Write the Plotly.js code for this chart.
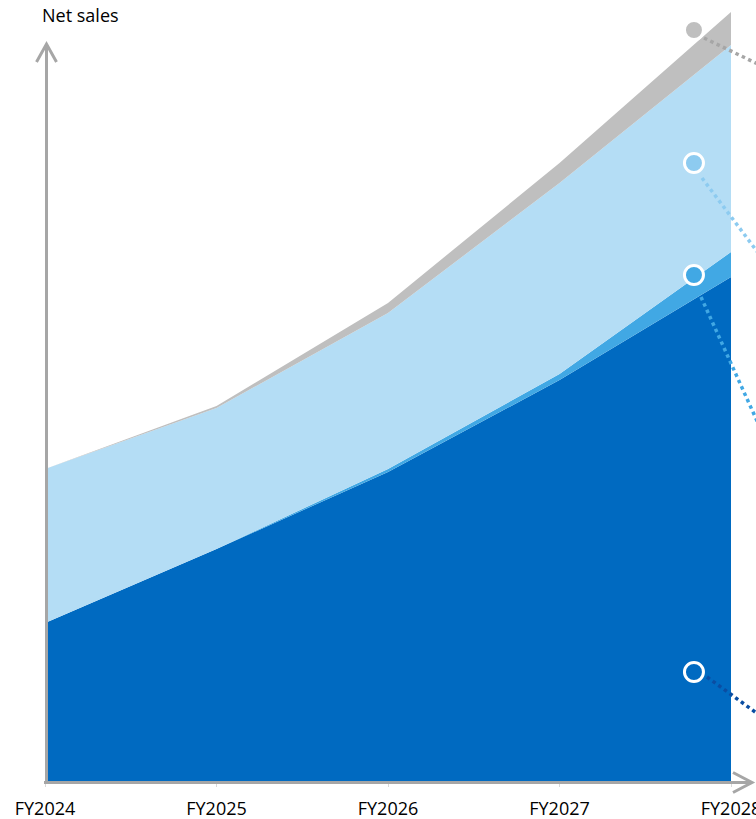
<!DOCTYPE html>
<html>
<head>
<meta charset="utf-8">
<script src="https://cdn.plot.ly/plotly-3.0.1.min.js"></script>
<style>
  html, body { margin: 0; padding: 0; background: #ffffff; }
  #chart { width: 756px; height: 819px; }
</style>
</head>
<body>
<div id="chart"></div>
<script>
// Fiscal years on the horizontal axis
const years = ['FY2024', 'FY2025', 'FY2026', 'FY2027', 'FY2028'];

// Net sales by segment (relative units, stacked bottom to top)
const coreSales    = [158, 232, 309, 401, 504];
const growthSales  = [0, 0, 3, 6, 25];
const serviceSales = [154, 141, 156, 191, 207];
const otherSales   = [0, 2, 10, 20, 33];

// Segment colours
const colCore    = '#006AC1';
const colGrowth  = '#41A8E4';
const colService = '#B4DDF5';
const colOther   = '#BFBFBF';
const colAxis    = '#A6A6A6';

// Callout markers, one per segment, placed near the right edge
const calloutX      = [3.784, 3.784, 3.784, 3.784];
const calloutY      = [751, 618, 506, 109];
const calloutFill   = [colOther, '#8DCBF0', colGrowth, colCore];
const calloutBorder = ['#ffffff', '#ffffff', '#ffffff', '#ffffff'];

// Page geometry
const W = 756, H = 819;
const M = { l: 45, r: 25, t: 10, b: 38 };
const plotW = W - M.l - M.r;
const plotH = H - M.t - M.b;
const yMax = 771;

// Pixel position -> paper coordinates (for decorations outside the plot area)
const px = x => (x - M.l) / plotW;
const py = y => (H - M.b - y) / plotH;

const xIdx = years.map((_, i) => i);

function area(name, values, color) {
  return {
    type: 'scatter', x: xIdx, y: values, name: name,
    stackgroup: 'sales', mode: 'none', fillcolor: color,
    hoverinfo: 'skip', line: { width: 0 }
  };
}

const traces = [
  area('Core', coreSales, colCore),
  area('Growth', growthSales, colGrowth),
  area('Service', serviceSales, colService),
  area('Other', otherSales, colOther),
  {
    type: 'scatter', mode: 'markers', x: calloutX, y: calloutY,
    hoverinfo: 'skip', showlegend: false,
    marker: { size: 19, color: calloutFill, line: { color: calloutBorder, width: 3 } }
  }
];

function seg(x0, y0, x1, y1, color, width, dash) {
  return {
    type: 'line', xref: 'paper', yref: 'paper',
    x0: px(x0), y0: py(y0), x1: px(x1), y1: py(y1),
    line: { color: color, width: width, dash: dash || 'solid' }, layer: 'above'
  };
}
function path(points, color, width) {
  const d = points.map((p, i) => (i ? 'L' : 'M') + px(p[0]) + ',' + py(p[1])).join(' ');
  return { type: 'path', xref: 'paper', yref: 'paper', path: d,
           line: { color: color, width: width }, layer: 'above' };
}

const shapes = [
  // axes with open arrow heads
  seg(46.5, 783, 46.5, 45, colAxis, 3),
  path([[36.5, 62], [46.5, 44], [56.5, 62]], colAxis, 3),
  seg(44, 782.5, 751, 782.5, colAxis, 3),
  path([[733, 772.5], [752, 782.5], [733, 792.5]], colAxis, 3),
  // dotted leader lines from the callout markers
  seg(704, 38, 762, 66, colAxis, 3.5, 'dot'),
  seg(702, 178, 762, 258, '#8DCBF0', 3.5, 'dot'),
  seg(701, 297, 762, 432, colGrowth, 3.5, 'dot'),
  seg(707, 677, 762, 717, '#0A4DA2', 3.5, 'dot')
];

const layout = {
  width: W, height: H,
  margin: M,
  paper_bgcolor: '#ffffff', plot_bgcolor: 'rgba(0,0,0,0)',
  showlegend: false,
  font: { family: '"Open Sans", "Noto Sans", sans-serif', color: '#000000', size: 18 },
  xaxis: {
    range: [0, 4], tickvals: xIdx, ticktext: years,
    showgrid: false, zeroline: false, showline: false,
    ticks: 'outside', ticklen: 5, tickwidth: 1, tickcolor: '#D9D9D9',
    ticklabelstandoff: 6, ticklabeloverflow: 'allow',
    tickfont: { size: 18, color: '#000000' }, automargin: false, fixedrange: true
  },
  yaxis: { range: [0, yMax], visible: false, fixedrange: true },
  shapes: shapes,
  annotations: [{
    text: 'Net sales', xref: 'paper', yref: 'paper',
    x: px(40), y: py(15), xanchor: 'left', yanchor: 'middle',
    showarrow: false, font: { size: 18, color: '#000000' }
  }]
};

Plotly.newPlot('chart', traces, layout, { staticPlot: true, displayModeBar: false });
</script>
</body>
</html>
